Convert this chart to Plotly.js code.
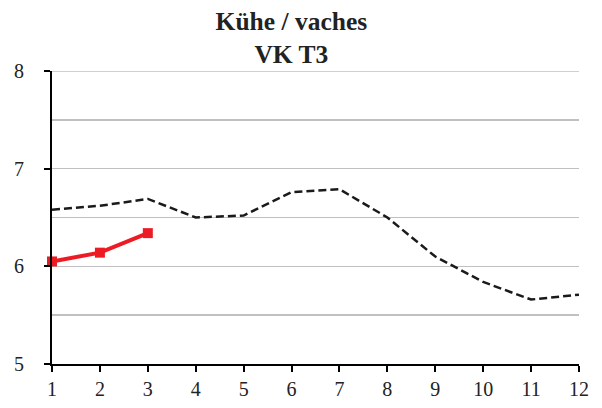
<!DOCTYPE html>
<html>
<head>
<meta charset="utf-8">
<script src="https://cdn.plot.ly/plotly-3.0.1.min.js"></script>
<style>html,body{margin:0;padding:0;background:#fff;}#chart{width:602px;height:408px;}</style>
</head>
<body>
<div id="chart"></div>
<script>
const months = [1, 2, 3, 4, 5, 6, 7, 8, 9, 10, 11, 12];
const referenceValues = [6.58, 6.62, 6.69, 6.50, 6.52, 6.76, 6.79, 6.50, 6.10, 5.84, 5.66, 5.71];
const currentMonths = [1, 2, 3];
const currentValues = [6.05, 6.14, 6.34];
const yTicks = [5, 6, 7, 8];
const yMax = 8;
const titleText = "Kühe / vaches<br>VK T3";

const serif = "Liberation Serif, Times New Roman, serif";

const traces = [
  {
    x: months, y: referenceValues, type: "scatter", mode: "lines",
    line: {color: "#1a1a1a", width: 2.5, dash: "8px,4px"},
    showlegend: false
  },
  {
    x: currentMonths, y: currentValues, type: "scatter", mode: "lines+markers",
    line: {color: "#ED1C24", width: 4},
    marker: {symbol: "square", size: 10, color: "#ED1C24"},
    cliponaxis: false, showlegend: false
  }
];

const layout = {
  width: 602, height: 408,
  margin: {l: 52, r: 23, t: 71, b: 44},
  paper_bgcolor: "#ffffff", plot_bgcolor: "#ffffff",
  font: {family: serif, size: 20, color: "#222"},
  title: {
    text: titleText,
    font: {family: serif, size: 25.5, color: "#222", weight: "bold"},
    x: 0.484, xref: "container", xanchor: "center",
    y: 0.9265, yref: "container", yanchor: "bottom",
    pad: {t: 0, b: 0, l: 0, r: 0}
  },
  xaxis: {
    range: [1, 12], tickvals: months, ticks: "outside", ticklen: 6, tickwidth: 2, tickcolor: "#000",
    showline: true, linecolor: "#000", linewidth: 2, showgrid: false, zeroline: false,
    ticklabelstandoff: 0, fixedrange: true
  },
  yaxis: {
    range: [5, yMax], tickvals: yTicks, ticks: "outside", ticklen: 6, tickwidth: 2, tickcolor: "#000",
    showline: true, linecolor: "#000", linewidth: 2,
    showgrid: true, gridcolor: "#C0C0C0", gridwidth: 1.5, zeroline: false,
    minor: {dtick: 0.5, showgrid: true, gridcolor: "#C0C0C0", gridwidth: 1.5, ticks: ""},
    ticklabelstandoff: 16, fixedrange: true
  },
  shapes: [
    {type: "line", xref: "paper", x0: 0, x1: 1, yref: "y", y0: yMax, y1: yMax,
     line: {color: "#C0C0C0", width: 1.5}, layer: "below"}
  ],
  showlegend: false
};

Plotly.newPlot("chart", traces, layout, {displayModeBar: false, staticPlot: true});
</script>
</body>
</html>
